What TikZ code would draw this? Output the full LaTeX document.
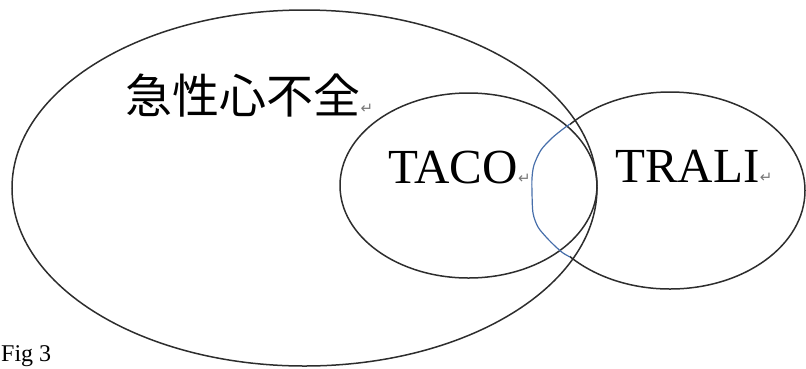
\documentclass[tikz,border=0pt]{standalone}
\usepackage{fontspec}
\setmainfont{Liberation Serif}
\newfontfamily\cjk{Noto Sans CJK JP}
\newfontfamily\symf{DejaVu Sans}
\definecolor{pen}{RGB}{45,45,45}
\definecolor{bluepen}{RGB}{70,110,170}
\definecolor{markgray}{RGB}{120,120,120}
\tikzset{
  venn/.style={draw=pen, line width=1.5pt},
  lbl/.style={inner sep=0pt, anchor=base west, text=black},
  rmark/.style={inner sep=0pt, anchor=base west, text=markgray, font=\symf\fontsize{15}{15}\selectfont}
}
\begin{document}
\begin{tikzpicture}[x=1pt,y=-1pt]
\useasboundingbox (0,0) rectangle (806,368);
\draw[venn] (304.5,188) ellipse [x radius=292.5, y radius=178];
\draw[venn] (468.5,185.5) ellipse [x radius=128.5, y radius=92.5];
\begin{scope}
  \clip (570,0) rectangle (806,368);
  \draw[venn] (670,190.5) ellipse [x radius=135, y radius=98.5];
\end{scope}
\draw[bluepen, line width=1.2pt] plot[smooth, tension=0.5] coordinates {(570,124) (563,129) (552,138) (541,150) (534,165) (532,178) (532,192) (533,213) (538,227) (547,238) (556,247) (563,253) (570,257)};
\node[lbl, font=\cjk\fontsize{47}{47}\selectfont] (ahf) at (125,113) {急性心不全};
\node[rmark] (m1) at (ahf.base east) {↵};
\node[lbl, font=\fontsize{49}{49}\selectfont] (taco) at (388,183) {TACO};
\node[rmark] (m2) at (taco.base east) {↵};
\node[lbl, font=\fontsize{49}{49}\selectfont] (trali) at (615,182) {TRALI};
\node[rmark] (m3) at (trali.base east) {↵};
\node[lbl, font=\fontsize{24}{24}\selectfont] (fig) at (1,361) {Fig 3};
\end{tikzpicture}
\end{document}
